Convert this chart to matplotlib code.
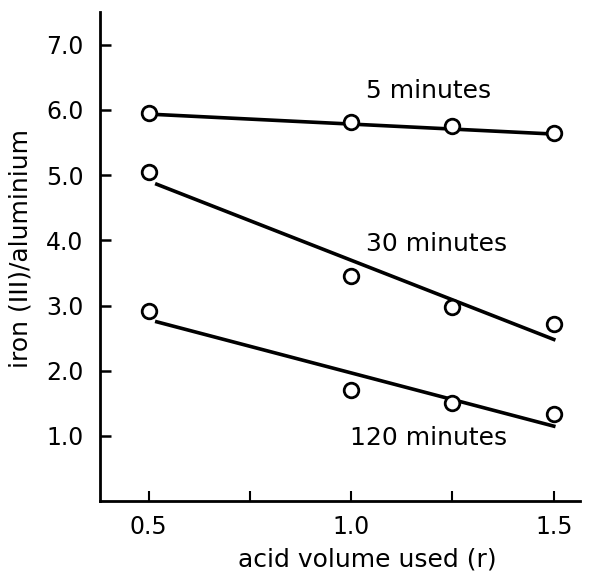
import matplotlib
matplotlib.use("Agg")
import matplotlib.pyplot as plt

plt.rcParams.update({
    "font.family": "DejaVu Sans",
    "axes.spines.top": False,
    "axes.spines.right": False,
})

# measured points
acid = [0.5, 1.0, 1.25, 1.5]
min5 = [5.95, 5.82, 5.75, 5.65]
min30 = [5.05, 3.45, 2.97, 2.72]
min120 = [2.92, 1.70, 1.50, 1.33]

# hand-drawn trend lines (end points)
fit_x = [0.52, 1.5]
fit5 = [5.93, 5.63]
fit30 = [4.86, 2.48]
fit120 = [2.75, 1.15]

labels = ["5 minutes", "30 minutes", "120 minutes"]
label_x = [1.19, 1.21, 1.19]
label_y = [6.29, 3.94, 0.97]

y_ticks = [1.0, 2.0, 3.0, 4.0, 5.0, 6.0, 7.0]
x_ticks = [0.5, 0.75, 1.0, 1.25, 1.5]
x_ticklabels = ["0.5", "", "1.0", "", "1.5"]

fig = plt.figure(figsize=(6.03, 5.78), dpi=100)
ax = fig.add_axes([0.166, 0.133, 0.796, 0.846])

for pts, fit in [(min5, fit5), (min30, fit30), (min120, fit120)]:
    ax.plot(fit_x, fit, color="black", linewidth=2.6)
    ax.plot(acid, pts, linestyle="none", marker="o", markersize=10.5,
            markerfacecolor="white", markeredgecolor="black", markeredgewidth=2)

for txt, tx, ty in zip(labels, label_x, label_y):
    ax.text(tx, ty, txt, ha="center", va="center", fontsize=18)

ax.set_xlim(0.38, 1.565)
ax.set_ylim(0, 7.5)
ax.set_yticks(y_ticks)
ax.set_yticklabels([f"{v:.1f}" for v in y_ticks], fontsize=17)
ax.set_xticks(x_ticks)
ax.set_xticklabels(x_ticklabels, fontsize=17)
ax.tick_params(axis="y", direction="in", length=8, width=1.8, pad=12)
ax.tick_params(axis="x", direction="in", length=7, width=1.5, pad=10)
for s in ["left", "bottom"]:
    ax.spines[s].set_linewidth(2)

ax.set_xlabel("acid volume used (r)", fontsize=18)
ax.xaxis.set_label_coords(0.556, -0.094)
ax.set_ylabel("iron (III)/aluminium", fontsize=18)
ax.yaxis.set_label_coords(-0.14, 0.517)

fig.savefig("out.png", dpi=100)
